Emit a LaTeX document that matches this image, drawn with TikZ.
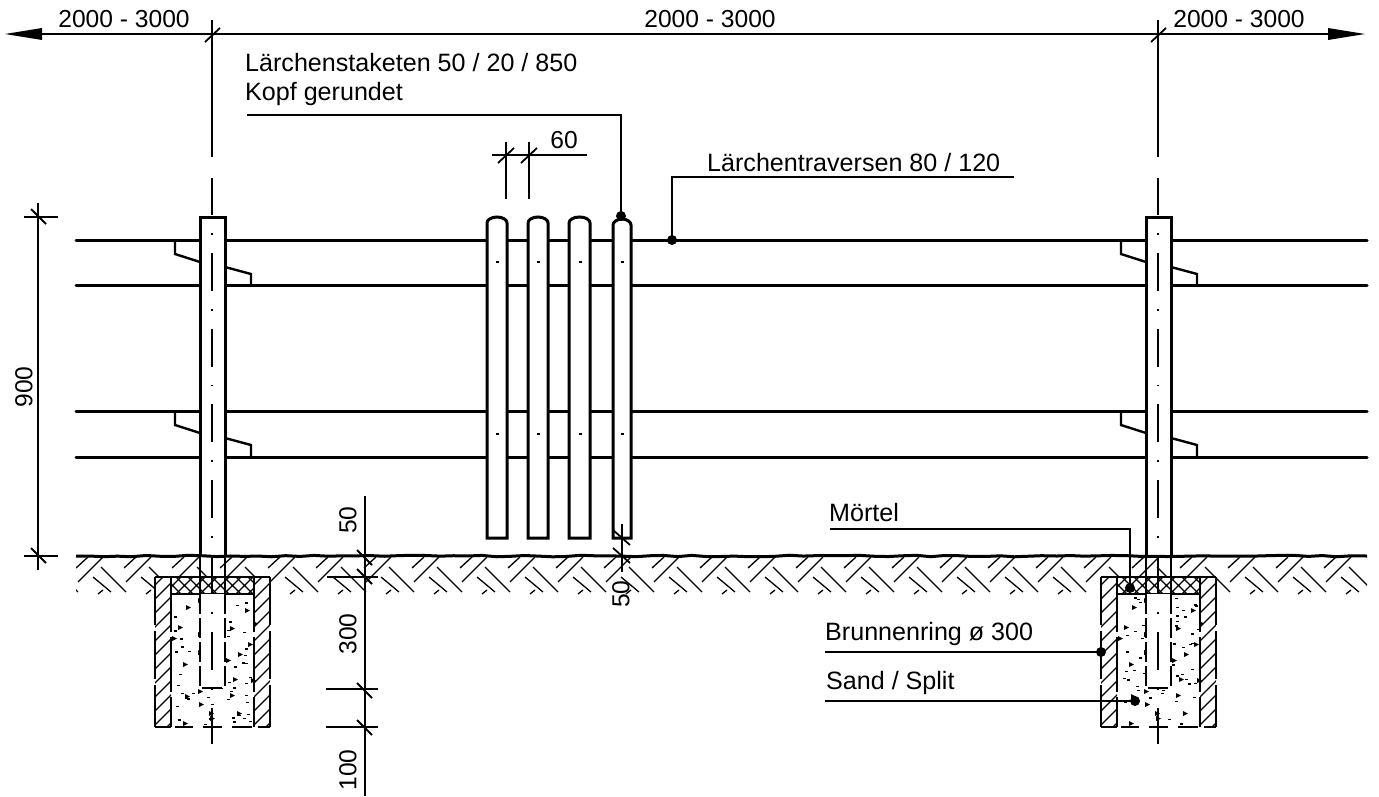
\documentclass[tikz,border=0pt]{standalone}
\usepackage{fontspec}
\setmainfont{Liberation Sans}
\usetikzlibrary{decorations.pathmorphing}
\begin{document}
\begin{tikzpicture}[
  x=1pt, y=-1pt,
  thin line/.style={line width=1.4pt},
  thick line/.style={line width=3pt},
  hatch/.style={line width=1.3pt},
  tick/.style={line width=1.8pt},
  label/.style={font=\fontsize{25.1}{29}\selectfont, inner sep=0pt, anchor=base west},
  dimtext/.style={font=\fontsize{24.6}{29}\selectfont, inner sep=0pt},
  centerline/.style={line width=1.4pt, dash pattern=on 1.8pt off 18pt on 38pt off 18pt}
]
\useasboundingbox (0,0) rectangle (1379,796);

% Rails
\foreach \y in {240,285,411,457}
  \draw[thick line, line cap=round] (76,\y) -- (1367,\y);

% Earth hatch
\begin{scope}
  \clip (76,556) rectangle (1367,594);
  \foreach \hx in {30,78,...,1400} {
    \draw[hatch] (\hx,582) -- (\hx+25,557);
    \draw[hatch] (\hx-2,568) -- (\hx+10,557);
    \draw[hatch] (\hx-25,567) -- (\hx,592);
    \draw[hatch] (\hx-33,577) -- (\hx-15,592);
    \draw[hatch] (\hx-28,594) -- (\hx-23,590);
  }
\end{scope}

% Posts and foundations
\foreach \px/\seed in {212/3,1158/8} {
  \begin{scope}[xshift=\px pt]
    % foundation
    \fill[white] (-57,577) rectangle (58,728);
    \begin{scope}
      \clip (-57,577) rectangle (-41,727) (42,577) rectangle (58,727);
      \foreach \y in {586,600,...,754}
        \draw[hatch] (-58,\y) -- (-38,\y-20) (41,\y) -- (61,\y-20);
    \end{scope}
    \begin{scope}
      \clip (-41,577) rectangle (42,594);
      \foreach \a in {-60,-48,...,60}
        \draw[hatch] (\a,594) -- (\a+17,577) (\a,577) -- (\a+17,594);
    \end{scope}
    \draw[thin line] (-57,577) -- (58,577);
    \draw[thin line] (-41,594) -- (42,594);
    \draw[thin line, dash pattern=on 48pt off 6pt] (-57,577) -- (-57,727);
    \draw[thin line, dash pattern=on 48pt off 6pt] (58,577) -- (58,727);
    \draw[thin line, dash pattern=on 55pt off 5pt] (-41,577) -- (-41,727);
    \draw[thin line, dash pattern=on 55pt off 5pt] (42,577) -- (42,727);
    \draw[thin line] (-57,727) -- (-41,727) (-37,727) -- (-19,727) (-9,727) -- (10,727) (20,727) -- (40,727) (46,727) -- (58,727);
    % sand and split
    \pgfmathsetseed{\seed}
    \foreach \i in {1,...,60} {
      \pgfmathsetmacro\sx{-39+79*rnd}
      \pgfmathsetmacro\sy{597+127*rnd}
      \fill (\sx,\sy) rectangle ++(3,1.3);
    }
    \foreach \tx/\ty in {-26/605,33/608,-34/625,18/626,36/642,26/652,-29/662,21/677,39/678,-27/694,18/693,-13/702,-3/711,25/711,-2/716,-29/721,-14/598,-14/632,-14/650,-14/689,14/658,-40/636,41/621}
      \fill (\tx,\ty) -- ++(5,2.5) -- ++(-5,2.5) -- cycle;
    % post
    \fill[white] (-12,594) rectangle (13,688);
    \draw[thin line] (-12,556) -- (-12,594) (13,556) -- (13,594);
    \draw[thin line, dash pattern=on 20pt off 4pt] (-12,594) -- (-12,688) -- (13,688);
    \draw[thin line, dash pattern=on 20pt off 4pt] (13,594) -- (13,688);
    \draw[thick line, fill=white] (-12,556) -- (-12,217) -- (13,217) -- (13,556);
    % brackets
    \foreach \dy in {0,171} {
      \draw[line width=2.4pt] (-37,240+\dy) -- (-37,254+\dy) -- (-12,262+\dy);
      \draw[line width=2.4pt] (13,267+\dy) -- (39,274+\dy) -- (39,285+\dy);
    }
    \draw[centerline] (0,233) -- (0,744);
  \end{scope}
}

% Ground line
\pgfmathsetseed{5}
\draw[thick line, decorate, decoration={random steps, segment length=14pt, amplitude=.8pt}] (76,556) -- (1367,556);

% Pickets
\foreach \lft/\rgt/\tp in {487/507/217,528/548/217,569/590/217,613/631/219} {
  \draw[thick line, fill=white] (\lft,538) -- (\lft,\tp+6) .. controls (\lft,\tp+3) and (\lft+4,\tp) .. (\lft/2+\rgt/2,\tp)
    .. controls (\rgt-4,\tp) and (\rgt,\tp+3) .. (\rgt,\tp+6) -- (\rgt,538) -- cycle;
  \foreach \y in {262,434}
    \fill (\lft/2+\rgt/2-1,\y-1) rectangle ++(3,2.2);
}

% Overall dimension
\draw[thin line] (42,34) -- (1328,34);
\fill (5,34) -- (42,28) -- (42,40) -- cycle;
\fill (1365,34) -- (1328,28) -- (1328,40) -- cycle;
\foreach \x in {212,1158} {
  \draw[thin line] (\x,20) -- (\x,157) (\x,178) -- (\x,215);
  \draw[tick] (\x-7,42) -- (\x+8,28);
}
\node[dimtext] (dimleft) at (124,19) {2000 - 3000};
\node[dimtext] (dimmid) at (710,19) {2000 - 3000};
\node[dimtext] (dimright) at (1239,19) {2000 - 3000};

% Height dimension
\draw[thin line] (38,203) -- (38,570);
\draw[thin line] (24,217) -- (58,217) (24,556) -- (58,556);
\foreach \y in {217,556}
  \draw[tick] (31,\y-8) -- (46,\y+7);
\node[dimtext, rotate=90] (dimheight) at (24,387) {900};

% Foundation dimension
\draw[thin line] (365,496) -- (365,796);
\draw[thin line] (327,577) -- (378,577) (326,689) -- (378,689) (326,727) -- (378,727);
\foreach \y in {557,576,690,727}
  \draw[tick] (357,\y-7) -- (372,\y+8);
\node[dimtext, rotate=90] (dimfifty) at (348,520) {50};
\node[dimtext, rotate=90] (dimdepth) at (348,634) {300};
\node[dimtext, rotate=90] (dimbase) at (348,770) {100};

% Picket clearance
\draw[thin line] (622,524) -- (622,572);
\foreach \y in {538,556}
  \draw[tick] (613,\y-8) -- (630,\y+7);
\node[dimtext, rotate=90] (dimclear) at (621,594) {50};

% Picket spacing
\draw[thin line] (492,155) -- (587,155);
\foreach \x in {506,529} {
  \draw[thin line] (\x,142) -- (\x,199);
  \draw[tick] (\x-8,163) -- (\x+8,148);
}
\node[dimtext] (dimspace) at (564,140) {60};

% Leaders
\tikzset{leaderdot/.style={circle, fill=black, minimum size=10pt, inner sep=0pt}}
\node[leaderdot] (dotpicket) at (621,216) {};
\node[leaderdot] (dotrail) at (672,240) {};
\node[leaderdot] (dotmortar) at (1130,588) {};
\node[leaderdot] (dotring) at (1101,652) {};
\node[leaderdot] (dotsand) at (1135,701) {};
\coordinate (startpicket) at (247,115);
\coordinate (startrail) at (1014,177);
\coordinate (startmortar) at (830,529);
\coordinate (startring) at (825,652);
\coordinate (startsand) at (825,701);
\draw[thin line] (startpicket) -| (dotpicket.center);
\draw[thin line] (startrail) -| (dotrail.center);
\draw[thin line] (startmortar) -| (dotmortar.center);
\draw[thin line] (startring) -- (dotring.center);
\draw[thin line] (startsand) -- (dotsand.center);

\node[label] (picketname) at (245,71) {Lärchenstaketen 50 / 20 / 850};
\node[label] (picketnote) at (245,100) {Kopf gerundet};
\node[label] (railname) at (707,171) {Lärchentraversen 80 / 120};
\node[label] (mortarname) at (829,521) {Mörtel};
\node[label] (ringname) at (825,640) {Brunnenring ø 300};
\node[label] (sandname) at (826,689) {Sand / Split};
\end{tikzpicture}
\end{document}
